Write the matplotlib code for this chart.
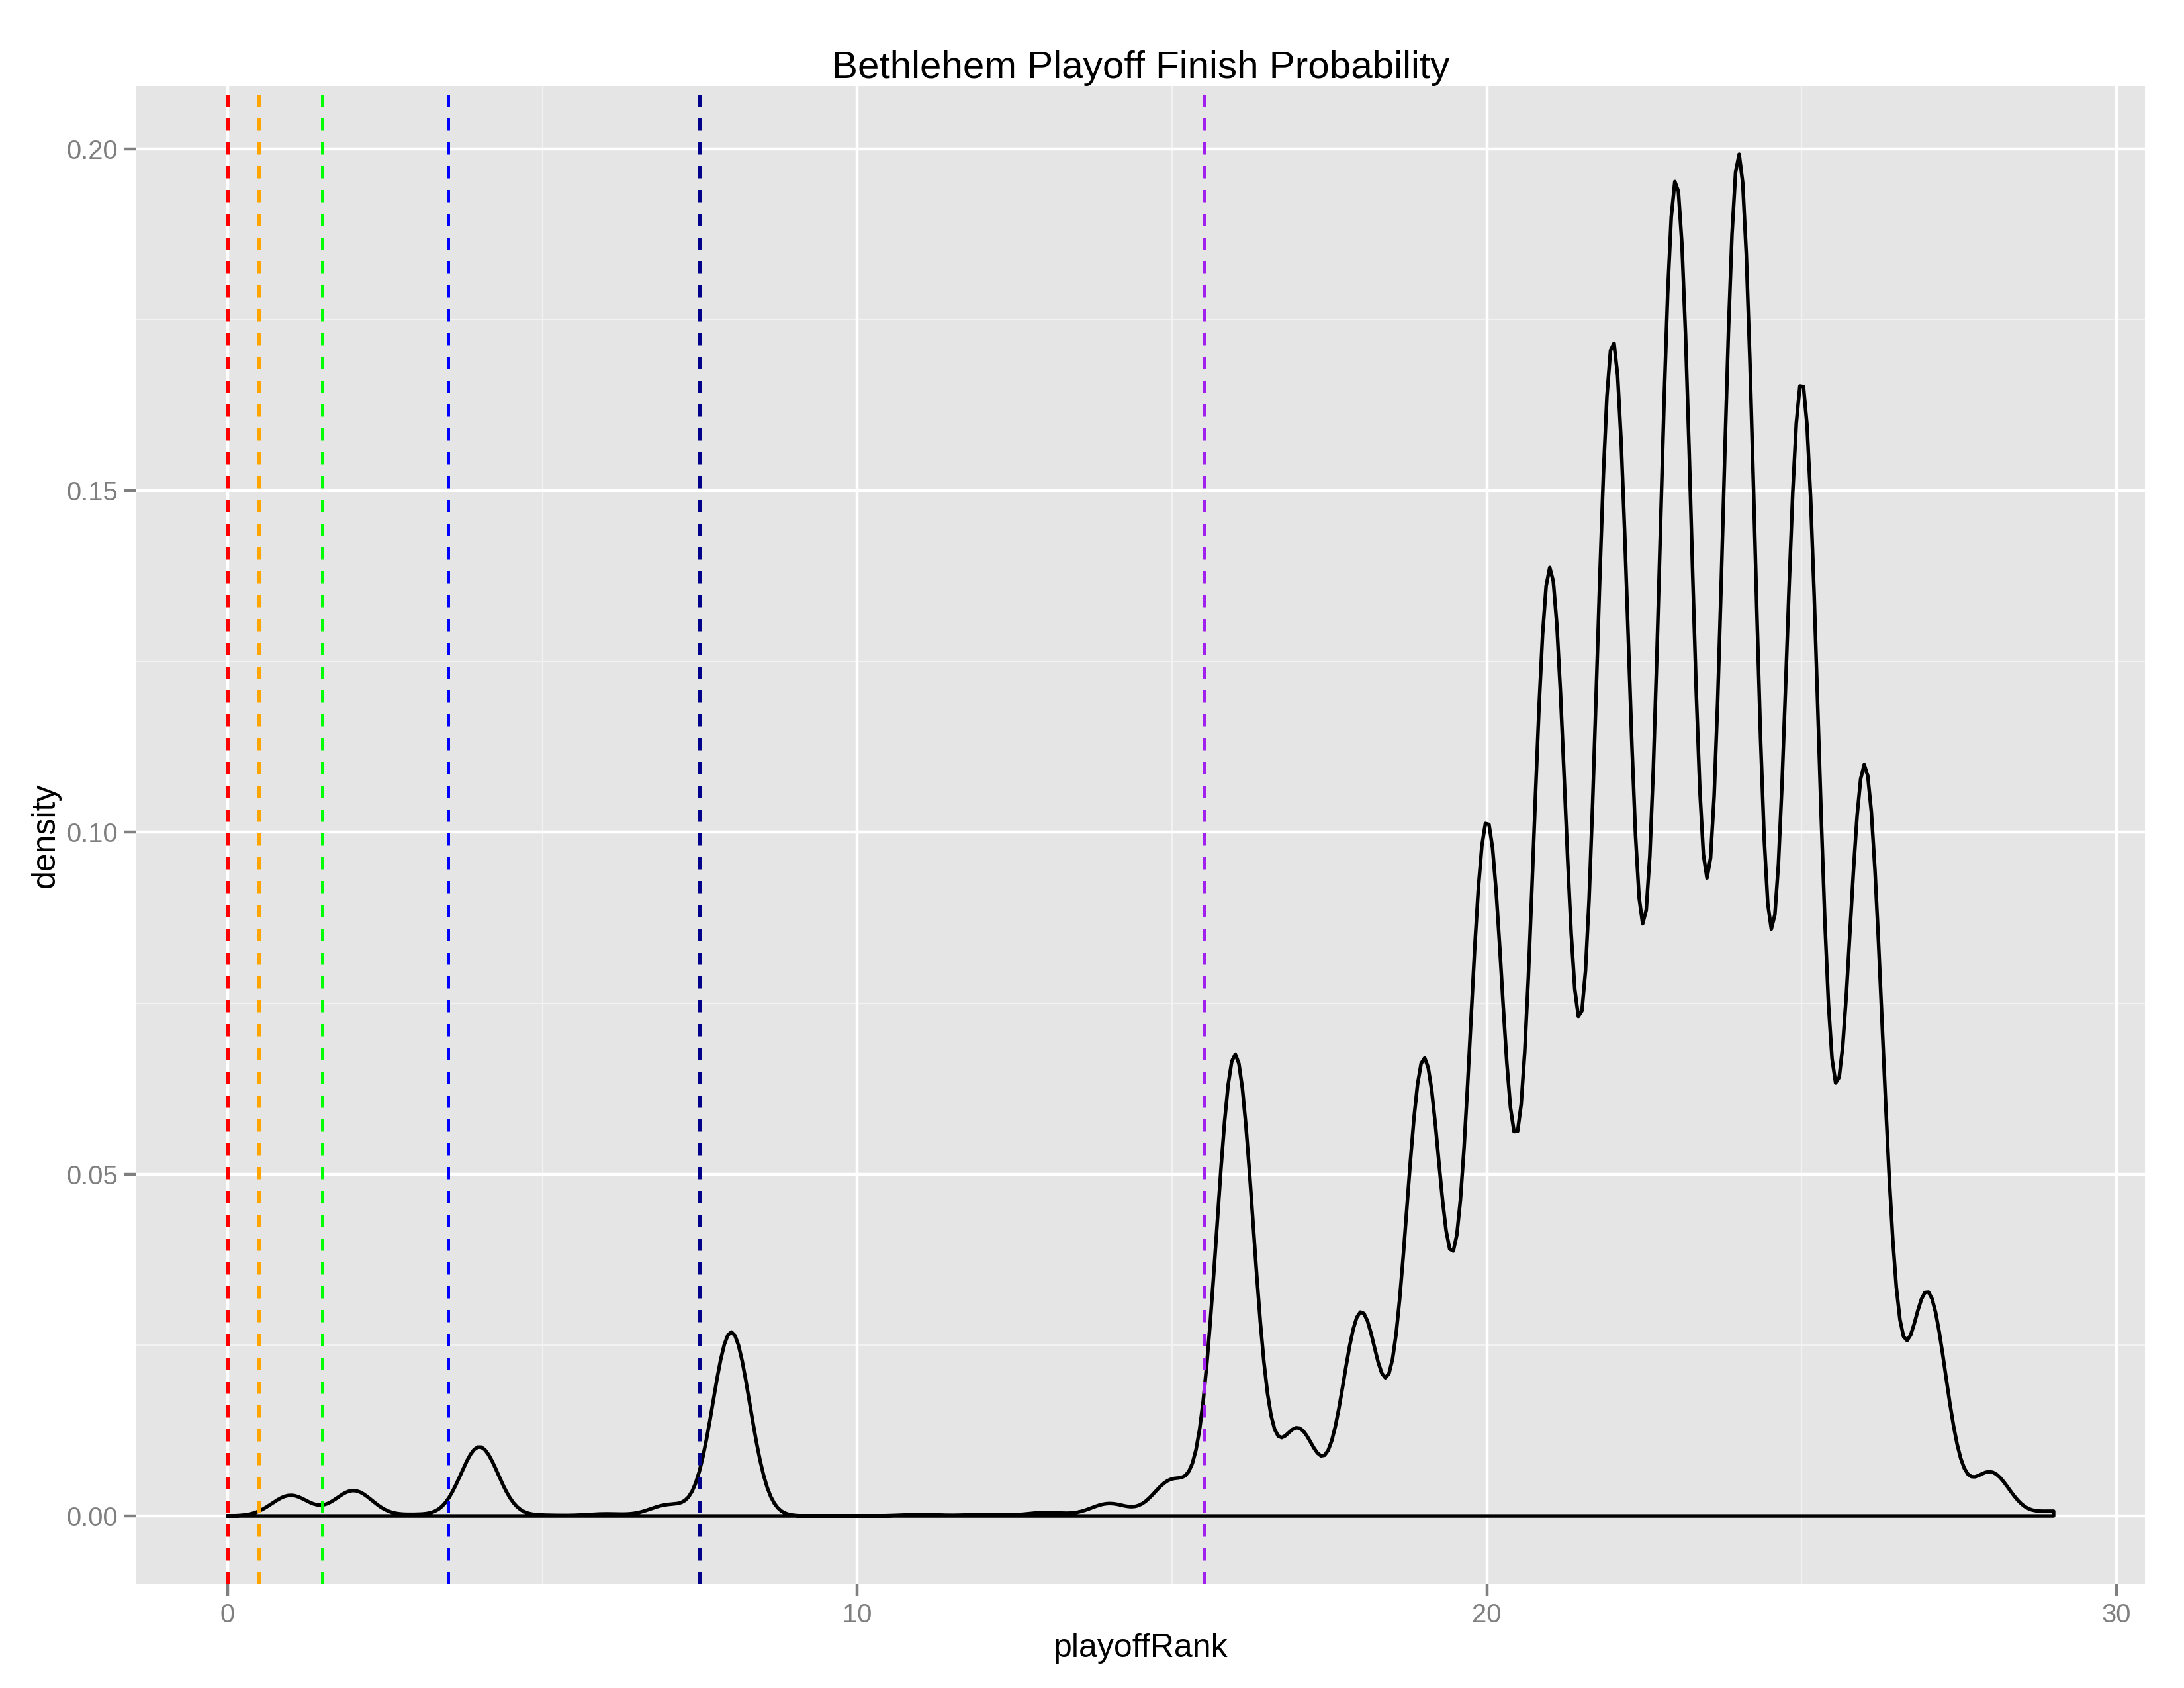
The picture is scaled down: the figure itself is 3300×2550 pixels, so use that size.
import numpy as np
import matplotlib
matplotlib.use("Agg")
import matplotlib.pyplot as plt

# ---- data ----
ranks = [1, 2, 3, 4, 5, 6, 7, 8, 9, 10, 11, 12, 13, 14, 15,
         16, 17, 18, 19, 20, 21, 22, 23, 24, 25, 26, 27, 28, 29]
rank_prob = [0.00222, 0.00274, 0.00015, 0.00747, 0.00007, 0.00022, 0.00118, 0.01989,
             0.0, 0.0, 0.00015, 0.00015, 0.00037, 0.00133, 0.00384,
             0.04991, 0.00932, 0.02189, 0.04924, 0.07468, 0.10196, 0.12629,
             0.14367, 0.14648, 0.1220, 0.0808, 0.0240, 0.0047, 0.0005]
bandwidth = 0.295
x_range = [0, 29]

cut_positions = [0, 0.5, 1.5, 3.5, 7.5, 15.5]
cut_colors = ["#FF0000", "#FFA500", "#00FF00", "#0000FF", "#00008B", "#A020F0"]

x_ticks = [0, 10, 20, 30]
y_ticks = [0.00, 0.05, 0.10, 0.15, 0.20]
y_ticklabels = ["0.00", "0.05", "0.10", "0.15", "0.20"]

title = "Bethlehem Playoff Finish Probability"
xlabel = "playoffRank"
ylabel = "density"

# ---- density (gaussian kernel, evaluated like stat_density on 512 points) ----
grid = np.linspace(x_range[0], x_range[1], 512)
r = np.asarray(ranks, float)[:, None]
w = np.asarray(rank_prob, float)[:, None]
dens = (w * np.exp(-0.5 * ((grid[None, :] - r) / bandwidth) ** 2)
        / (bandwidth * np.sqrt(2 * np.pi))).sum(axis=0)

plt.rcParams['font.family'] = ['Liberation Sans', 'DejaVu Sans']

fig = plt.figure(figsize=(11, 8.5), dpi=300)
L, R, B, T = 0.0624, 0.9821, 0.0616, 0.949
ax = fig.add_axes([L, B, R - L, T - B])
ax.set_facecolor("#E5E5E5")
for s in ax.spines.values():
    s.set_visible(False)

lw = 1.07
# limits with ggplot-like 5% expansion
xr = x_range[1] - x_range[0]
ax.set_xlim(x_range[0] - 0.05 * xr, x_range[1] + 0.05 * xr)
ymax = dens.max()
ax.set_ylim(-0.05 * ymax, ymax * 1.05)

# grid
for xm in [5, 15, 25]:
    ax.axvline(xm, color="#F2F2F2", lw=0.53, zorder=0.5)
for ym in [0.025, 0.075, 0.125, 0.175]:
    ax.axhline(ym, color="#F2F2F2", lw=0.53, zorder=0.5)
for xt in x_ticks:
    ax.axvline(xt, color="white", lw=lw, zorder=0.6)
for yt in y_ticks:
    ax.axhline(yt, color="white", lw=lw, zorder=0.6)

# density outline (closed polygon like geom_density)
px = np.concatenate([[grid[0]], grid, [grid[-1], grid[0]]])
py = np.concatenate([[0], dens, [0, 0]])
ax.plot(px, py, color="black", lw=1.3, zorder=2, solid_joinstyle="round")

for xp, c in zip(cut_positions, cut_colors):
    ax.axvline(xp, color=c, lw=1.2, ls=(0, (3.7, 3.5)), zorder=3)

ax.set_xticks(x_ticks)
ax.set_xticklabels([str(t) for t in x_ticks])
ax.set_yticks(y_ticks)
ax.set_yticklabels(y_ticklabels)
ax.tick_params(axis="both", length=4.25, width=lw, color="#7F7F7F",
               labelcolor="#7F7F7F", labelsize=9.6, pad=2.5)

cx = (L + R) / 2
fig.text(cx, 0.9595, title, ha="center", va="center", fontsize=14.0, color="black")
fig.text(cx, 0.0235, xlabel, ha="center", va="center", fontsize=12, color="black")
fig.text(0.021, (B + T) / 2, ylabel, ha="center", va="center", rotation=90,
         fontsize=12, color="black")

fig.savefig("out.png", dpi=300, facecolor="white")
